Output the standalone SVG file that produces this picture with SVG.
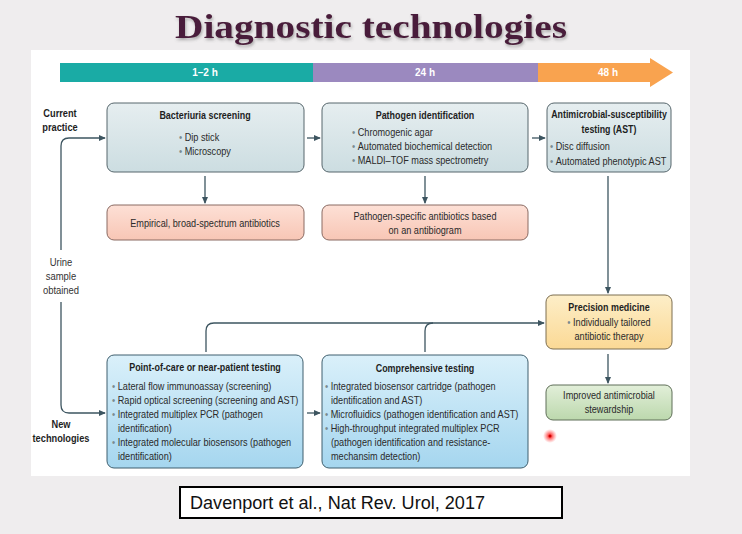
<svg xmlns="http://www.w3.org/2000/svg" width="742" height="534" viewBox="0 0 742 534">
<defs>
<style>
.tl{font-family:"Liberation Sans",Arial,sans-serif;font-weight:bold;font-size:10px;fill:#fff;text-anchor:middle}
.hd{font-family:"Liberation Sans",Arial,sans-serif;font-weight:bold;font-size:10.5px;fill:#1e1e1e}
.bd{font-family:"Liberation Sans",Arial,sans-serif;font-size:10.5px;fill:#2a2a2a}
.lb{font-family:"Liberation Sans",Arial,sans-serif;font-size:10.5px;fill:#333;text-anchor:middle}
.lbb{font-family:"Liberation Sans",Arial,sans-serif;font-weight:bold;font-size:10.5px;fill:#1e1e1e;text-anchor:middle}
.mid{text-anchor:middle}
.bu{fill:#7a8a90}
.con{fill:none;stroke:#3d5560;stroke-width:1.3}
.gb{fill:url(#gGrey);stroke:#56666c;stroke-width:1}
.pk{fill:url(#gPink);stroke:#8a6a62;stroke-width:1}
.bl{fill:url(#gBlue);stroke:#3f5f6e;stroke-width:1}
.yl{fill:url(#gYel);stroke:#7d6e50;stroke-width:1}
.gr{fill:url(#gGrn);stroke:#5f6f58;stroke-width:1}
</style>
<linearGradient id="gGrey" x1="0" y1="0" x2="0" y2="1"><stop offset="0" stop-color="#e6eef0"/><stop offset="1" stop-color="#ccdde1"/></linearGradient>
<linearGradient id="gPink" x1="0" y1="0" x2="0" y2="1"><stop offset="0" stop-color="#fde0d6"/><stop offset="1" stop-color="#f8c6b5"/></linearGradient>
<linearGradient id="gBlue" x1="0" y1="0" x2="0" y2="1"><stop offset="0" stop-color="#daf0fa"/><stop offset="1" stop-color="#a5d6ef"/></linearGradient>
<linearGradient id="gYel" x1="0" y1="0" x2="0" y2="1"><stop offset="0" stop-color="#fdeec8"/><stop offset="1" stop-color="#fbd995"/></linearGradient>
<linearGradient id="gGrn" x1="0" y1="0" x2="0" y2="1"><stop offset="0" stop-color="#e2efd9"/><stop offset="1" stop-color="#bcd8ad"/></linearGradient>
<radialGradient id="gDot"><stop offset="0" stop-color="#ff2020"/><stop offset="0.35" stop-color="#ff3030" stop-opacity="0.7"/><stop offset="1" stop-color="#ff6060" stop-opacity="0"/></radialGradient>
<filter id="sh" x="-5%" y="-20%" width="110%" height="150%"><feDropShadow dx="1" dy="2" stdDeviation="1.5" flood-color="#555" flood-opacity="0.45"/></filter>
<marker id="ar" viewBox="0 0 8 8" refX="7" refY="4" markerWidth="7" markerHeight="7" markerUnits="userSpaceOnUse" orient="auto"><path d="M0,0.5 L8,4 L0,7.5 z" fill="#3d5560"/></marker>
</defs>
<rect width="742" height="534" fill="#efedee"/>
<text x="371" y="38" font-family="Liberation Serif,serif" font-weight="bold" font-size="33" fill="#4a1f3a" text-anchor="middle" textLength="392" lengthAdjust="spacingAndGlyphs" filter="url(#sh)">Diagnostic technologies</text>
<rect x="31" y="50" width="659" height="426" fill="#ffffff"/>

<g id="timeline">
<rect x="60" y="63" width="253" height="19" fill="#1aaba5"/>
<rect x="313" y="63" width="225" height="19" fill="#9b89bf"/>
<path d="M538,63 L650,63 L650,58 L673,72.5 L650,87 L650,82 L538,82 z" fill="#f9a34f"/>
<text class="tl" x="205" y="76">1–2 h</text>
<text class="tl" x="425" y="76">24 h</text>
<text class="tl" x="608" y="76">48 h</text>
</g>

<g id="label-current">
<text class="lbb" transform="matrix(.88 0 0 1 60 117)">Current</text>
<text class="lbb" transform="matrix(.88 0 0 1 60 131)">practice</text>
</g>
<g id="label-urine">
<text class="lb" transform="matrix(.9 0 0 1 61 266)">Urine</text>
<text class="lb" transform="matrix(.9 0 0 1 61 280)">sample</text>
<text class="lb" transform="matrix(.9 0 0 1 61 294)">obtained</text>
</g>
<g id="label-new">
<text class="lbb" transform="matrix(.88 0 0 1 61 428)">New</text>
<text class="lbb" transform="matrix(.88 0 0 1 61 442)">technologies</text>
</g>

<g id="connectors">
<path class="con" d="M307,138 L320,138" marker-end="url(#ar)"/>
<path class="con" d="M532,138 L545,138" marker-end="url(#ar)"/>
<path class="con" d="M205,176 L205,203" marker-end="url(#ar)"/>
<path class="con" d="M425,176 L425,203" marker-end="url(#ar)"/>
<path class="con" d="M608,176 L608,293" marker-end="url(#ar)"/>
<path class="con" d="M608,354 L608,383" marker-end="url(#ar)"/>
<path class="con" d="M61,250 L61,146 Q61,138 69,138 L105,138" marker-end="url(#ar)"/>
<path class="con" d="M61,302 L61,405 Q61,413 69,413 L105,413" marker-end="url(#ar)"/>
<path class="con" d="M206,352 L206,331 Q206,323 214,323 L544,323" marker-end="url(#ar)"/>
<path class="con" d="M425,352 L425,331 Q425,323 433,323"/>
<path class="con" d="M307,413 L320,413" marker-end="url(#ar)"/>
</g>

<g id="bacteriuria-screening">
<rect class="gb" x="107" y="103" width="197" height="69" rx="7"/>
<text class="hd mid" transform="matrix(.85 0 0 1 205 119)">Bacteriuria screening</text>
<text class="bd" transform="matrix(.87 0 0 1 179 141)"><tspan class="bu">• </tspan>Dip stick</text>
<text class="bd" transform="matrix(.87 0 0 1 179 155)"><tspan class="bu">• </tspan>Microscopy</text>
</g>

<g id="pathogen-identification">
<rect class="gb" x="322" y="103" width="206" height="69" rx="7"/>
<text class="hd mid" transform="matrix(.85 0 0 1 425 119)">Pathogen identification</text>
<text class="bd" transform="matrix(.87 0 0 1 352 136)"><tspan class="bu">• </tspan>Chromogenic agar</text>
<text class="bd" transform="matrix(.87 0 0 1 352 150)"><tspan class="bu">• </tspan>Automated biochemical detection</text>
<text class="bd" transform="matrix(.87 0 0 1 352 164)"><tspan class="bu">• </tspan>MALDI–TOF mass spectrometry</text>
</g>

<g id="ast">
<rect class="gb" x="547" y="103" width="124" height="69" rx="7"/>
<text class="hd mid" transform="matrix(.84 0 0 1 609 118)">Antimicrobial-susceptibility</text>
<text class="hd mid" transform="matrix(.84 0 0 1 609 133)">testing (AST)</text>
<text class="bd" transform="matrix(.87 0 0 1 550 150)"><tspan class="bu">• </tspan>Disc diffusion</text>
<text class="bd" transform="matrix(.87 0 0 1 550 165)"><tspan class="bu">• </tspan>Automated phenotypic AST</text>
</g>

<g id="empirical-antibiotics">
<rect class="pk" x="107" y="205" width="197" height="35" rx="7"/>
<text class="bd mid" transform="matrix(.87 0 0 1 205 227)">Empirical, broad-spectrum antibiotics</text>
</g>

<g id="pathogen-specific-antibiotics">
<rect class="pk" x="322" y="205" width="206" height="35" rx="7"/>
<text class="bd mid" transform="matrix(.87 0 0 1 425 220)">Pathogen-specific antibiotics based</text>
<text class="bd mid" transform="matrix(.87 0 0 1 425 234)">on an antibiogram</text>
</g>

<g id="precision-medicine">
<rect class="yl" x="546" y="295" width="126" height="54" rx="7"/>
<text class="hd mid" transform="matrix(.85 0 0 1 609 311)">Precision medicine</text>
<text class="bd mid" transform="matrix(.87 0 0 1 609 326)"><tspan class="bu">• </tspan>Individually tailored</text>
<text class="bd mid" transform="matrix(.87 0 0 1 609 340)">antibiotic therapy</text>
</g>

<g id="improved-stewardship">
<rect class="gr" x="546" y="385" width="126" height="35" rx="7"/>
<text class="bd mid" transform="matrix(.87 0 0 1 609 399)">Improved antimicrobial</text>
<text class="bd mid" transform="matrix(.87 0 0 1 609 413)">stewardship</text>
</g>

<g id="point-of-care">
<rect class="bl" x="107" y="355" width="196" height="113" rx="7"/>
<text class="hd mid" transform="matrix(.85 0 0 1 205 371)">Point-of-care or near-patient testing</text>
<text class="bd" transform="matrix(.87 0 0 1 112 390)"><tspan class="bu">• </tspan>Lateral flow immunoassay (screening)</text>
<text class="bd" transform="matrix(.87 0 0 1 112 404)"><tspan class="bu">• </tspan>Rapid optical screening (screening and AST)</text>
<text class="bd" transform="matrix(.87 0 0 1 112 418)"><tspan class="bu">• </tspan>Integrated multiplex PCR (pathogen</text>
<text class="bd" transform="matrix(.87 0 0 1 118 432)">identification)</text>
<text class="bd" transform="matrix(.87 0 0 1 112 446)"><tspan class="bu">• </tspan>Integrated molecular biosensors (pathogen</text>
<text class="bd" transform="matrix(.87 0 0 1 118 460)">identification)</text>
</g>

<g id="comprehensive-testing">
<rect class="bl" x="322" y="355" width="206" height="113" rx="7"/>
<text class="hd mid" transform="matrix(.85 0 0 1 425 372)">Comprehensive testing</text>
<text class="bd" transform="matrix(.87 0 0 1 325 390)"><tspan class="bu">• </tspan>Integrated biosensor cartridge (pathogen</text>
<text class="bd" transform="matrix(.87 0 0 1 331 404)">identification and AST)</text>
<text class="bd" transform="matrix(.87 0 0 1 325 418)"><tspan class="bu">• </tspan>Microfluidics (pathogen identification and AST)</text>
<text class="bd" transform="matrix(.87 0 0 1 325 432)"><tspan class="bu">• </tspan>High-throughput integrated multiplex PCR</text>
<text class="bd" transform="matrix(.87 0 0 1 331 446)">(pathogen identification and resistance-</text>
<text class="bd" transform="matrix(.87 0 0 1 331 460)">mechansim detection)</text>
</g>

<circle cx="550" cy="436" r="7" fill="url(#gDot)"/>
<circle cx="550" cy="436" r="1.5" fill="#d00000"/>

<g id="citation">
<rect x="180" y="487" width="382" height="31" fill="#ffffff" stroke="#000" stroke-width="2"/>
<text x="190" y="509" font-family="Liberation Sans,Arial,sans-serif" font-size="17.5" fill="#111" textLength="295" lengthAdjust="spacingAndGlyphs">Davenport et al., Nat Rev. Urol, 2017</text>
</g>
</svg>
